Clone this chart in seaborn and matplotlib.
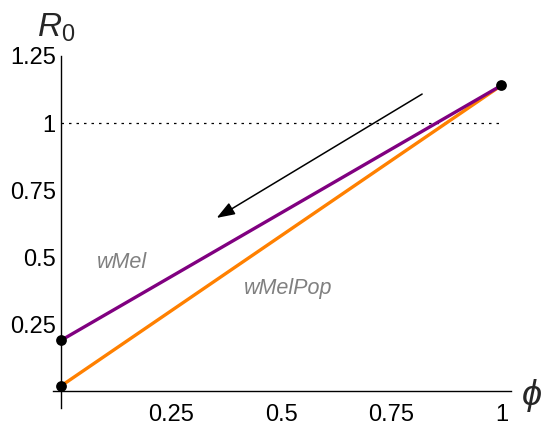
import matplotlib
matplotlib.use("Agg")
import matplotlib.pyplot as plt
from matplotlib import font_manager
import seaborn as sns
import pandas as pd

phi = [0.0, 1.0]
r0_wmel = [0.19, 1.14]
r0_wmelpop = [0.02, 1.14]
threshold = 1.0
x_ticks = [0.25, 0.5, 0.75, 1.0]
x_labels = ["0.25", "0.5", "0.75", "1"]
y_ticks = [0.25, 0.5, 0.75, 1.0, 1.25]
y_labels = ["0.25", "0.5", "0.75", "1", "1.25"]
dots_x = [0.0, 0.0, 1.0]
dots_y = [0.19, 0.02, 1.14]
arrow_start = (0.82, 1.108)
arrow_end = (0.353, 0.646)

sns.set_style("white")
names = {f.name for f in font_manager.fontManager.ttflist}
fam = "Liberation Sans Narrow" if "Liberation Sans Narrow" in names else "Liberation Sans"
plt.rcParams["font.family"] = [fam, "DejaVu Sans"]
plt.rcParams["mathtext.fontset"] = "custom"
plt.rcParams["mathtext.it"] = "Liberation Sans:italic"
plt.rcParams["mathtext.rm"] = "Liberation Sans"

fig = plt.figure(figsize=(5.42, 4.30), dpi=100)
ax = fig.add_axes([0.0978, 0.0512, 0.845, 0.8186])

df = pd.DataFrame({
    "phi": phi * 2,
    "R0": r0_wmelpop + r0_wmel,
    "strain": ["wMelPop"] * 2 + ["wMel"] * 2,
})
sns.lineplot(data=df, x="phi", y="R0", hue="strain",
             palette={"wMelPop": "#FF8000", "wMel": "#800080"},
             linewidth=2.4, legend=False, ax=ax, zorder=3)
ax.plot([0, 1], [threshold, threshold], color="black", lw=0.9,
        linestyle=(0, (2, 4)), zorder=2)
sns.scatterplot(x=dots_x, y=dots_y, color="black", s=60, edgecolor="black",
                linewidth=0, ax=ax, zorder=5, legend=False)

ax.annotate("", xy=arrow_end, xytext=arrow_start,
            arrowprops=dict(arrowstyle="-|>,head_length=1.1,head_width=0.4",
                            color="black", lw=1.1, shrinkA=0, shrinkB=0))

ax.text(0.137, 0.478, "wMel", color="#808080", style="italic", fontsize=15.5,
        ha="center", va="center", family="Liberation Sans")
ax.text(0.515, 0.384, "wMelPop", color="#808080", style="italic", fontsize=15.5,
        ha="center", va="center", family="Liberation Sans")

ax.set_xlim(-0.019, 1.022)
ax.set_ylim(-0.063, 1.25)
for s in ["top", "right"]:
    ax.spines[s].set_visible(False)
ax.spines["left"].set_position(("data", 0))
ax.spines["bottom"].set_position(("data", 0))
for s in ["left", "bottom"]:
    ax.spines[s].set_linewidth(1.0)
    ax.spines[s].set_color("black")

ax.set_xticks(x_ticks)
ax.set_xticklabels(x_labels)
ax.set_yticks(y_ticks)
ax.set_yticklabels(y_labels)
ax.tick_params(axis="both", direction="in", length=4, width=0.8, labelsize=17,
               colors="black")
ax.tick_params(axis="x", pad=9)
ax.tick_params(axis="y", pad=4)
ax.set_xlabel("")
ax.set_ylabel("")

fig.text(37 / 542, 1 - 28 / 430, r"$R_0$", fontsize=24, ha="left", va="center")
fig.text(521 / 542, 1 - 395 / 430, r"$\phi$", fontsize=26, ha="left", va="center",
         family="DejaVu Sans")
ax.grid(False)

fig.savefig("out.png", dpi=100)
